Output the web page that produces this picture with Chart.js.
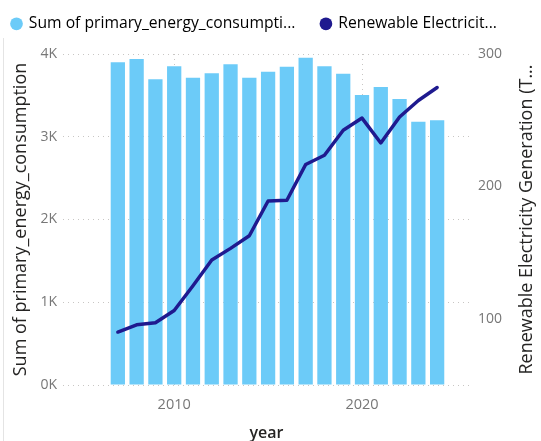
<!DOCTYPE html>
<html>
<head>
<meta charset="utf-8">
<script src="https://cdn.jsdelivr.net/npm/chart.js@4.4.1/dist/chart.umd.min.js"></script>
<style>
  html, body { margin: 0; padding: 0; background: #fff; }
  #wrap { position: relative; width: 541px; height: 441px; }
</style>
</head>
<body>
<div id="wrap"><canvas id="energyChart"></canvas></div>
<script>
const years = [2007, 2008, 2009, 2010, 2011, 2012, 2013, 2014, 2015, 2016, 2017, 2018, 2019, 2020, 2021, 2022, 2023, 2024];
const primaryEnergy = [3900, 3940, 3694, 3851, 3714, 3767, 3875, 3714, 3786, 3847, 3955, 3851, 3762, 3505, 3601, 3456, 3182, 3199];
const renewableGen = [90, 95.5, 97, 106.3, 125, 144.4, 153.2, 162.7, 189, 189.5, 216.5, 223.5, 242.4, 251.6, 232.8, 252.4, 264.9, 274.7];
const leftTicks = [0, 1000, 2000, 3000, 4000];
const rightTicks = [100, 200, 300];
const yearTicks = [2010, 2020];
const legendText = ['Sum of primary_energy_consumpti...', 'Renewable Electricit...'];

const FONT = '"Open Sans", "Noto Sans", sans-serif';
const GRID = '#c8c6c4';
const LEGEND_PAD = 26;

// fixed legend band height, and pull the legend row back to the top-left corner
// (the wide item padding would otherwise push it right and down)
const legendBand = {
  id: 'legendBand',
  beforeLayout(chart) {
    const lg = chart.legend;
    if (lg && !lg._patched) {
      const fit = lg.fit;
      lg.fit = function () { fit.call(this); this.height = 54; };
      lg._patched = true;
    }
  },
  afterLayout(chart) {
    const lg = chart.legend;
    lg.left = 12 - LEGEND_PAD;
    lg.top = -10;
  }
};

// right axis title reads bottom-to-top, so it is drawn here; plus the thin frame line on the left
const rightTitle = {
  id: 'rightTitle',
  afterDraw(chart) {
    const { ctx, chartArea } = chart;
    const s = chart.scales.y2;
    ctx.save();
    ctx.strokeStyle = '#e4e4e4';
    ctx.lineWidth = 1;
    ctx.beginPath();
    ctx.moveTo(3.5, 38);
    ctx.lineTo(3.5, chart.height);
    ctx.stroke();

    ctx.translate(s.right - 14, (chartArea.top + chartArea.bottom) / 2);
    ctx.rotate(-Math.PI / 2);
    ctx.font = '18px ' + FONT;
    ctx.fillStyle = '#252423';
    ctx.textAlign = 'center';
    ctx.textBaseline = 'middle';
    ctx.fillText('Renewable Electricity Generation (T...', 0, 0);
    ctx.restore();
  }
};

new Chart(document.getElementById('energyChart'), {
  type: 'bar',
  data: {
    datasets: [
      {
        type: 'bar',
        label: 'Sum of primary_energy_consumption',
        data: years.map((y, i) => ({ x: y, y: primaryEnergy[i] })),
        backgroundColor: '#6ccbf8',
        barPercentage: 0.76,
        categoryPercentage: 1,
        yAxisID: 'y',
        order: 1
      },
      {
        type: 'line',
        label: 'Renewable Electricity Generation (TWh)',
        data: years.map((y, i) => ({ x: y, y: renewableGen[i] })),
        borderColor: '#1f1a8f',
        backgroundColor: '#1f1a8f',
        borderWidth: 3.5,
        borderJoinStyle: 'round',
        borderCapStyle: 'round',
        pointRadius: 0,
        tension: 0,
        yAxisID: 'y2',
        order: 0
      }
    ]
  },
  options: {
    responsive: true,
    maintainAspectRatio: false,
    animation: false,
    layout: { padding: 0 },
    plugins: {
      tooltip: { enabled: false },
      legend: {
        position: 'top',
        align: 'start',
        labels: {
          usePointStyle: true,
          pointStyle: 'circle',
          boxWidth: 9,
          boxHeight: 9,
          padding: LEGEND_PAD,
          color: '#605e5c',
          font: { family: FONT, size: 15.7 },
          generateLabels(chart) {
            return chart.data.datasets.map((ds, i) => ({
              text: legendText[i],
              fillStyle: ds.type === 'line' ? ds.borderColor : ds.backgroundColor,
              strokeStyle: 'transparent',
              lineWidth: 0,
              pointStyle: 'circle',
              hidden: false,
              datasetIndex: i
            }));
          }
        }
      }
    },
    scales: {
      x: {
        type: 'linear',
        min: 2004.08,
        max: 2025.75,
        offset: false,
        afterBuildTicks(scale) { scale.ticks = yearTicks.map(v => ({ value: v })); },
        afterFit(scale) { scale.height = 56; },
        ticks: {
          color: '#777',
          padding: 11,
          font: { family: FONT, size: 14.5 },
          callback: v => String(v)
        },
        grid: { color: GRID, drawTicks: false, offset: false },
        border: { display: false, dash: [1, 4] },
        title: {
          display: true,
          text: 'year',
          color: '#252423',
          font: { family: FONT, size: 16, weight: '600', lineHeight: 1 },
          padding: { top: 0, bottom: 0 }
        }
      },
      y: {
        position: 'left',
        min: 0,
        max: 4000,
        afterBuildTicks(scale) { scale.ticks = leftTicks.map(v => ({ value: v })); },
        afterFit(scale) { scale.width = 63; },
        ticks: {
          color: '#777',
          padding: 6,
          font: { family: FONT, size: 14 },
          callback: v => (v / 1000) + 'K'
        },
        grid: { color: GRID, drawTicks: false },
        border: { display: false, dash: [1, 4] },
        title: {
          display: true,
          text: 'Sum of primary_energy_consumption',
          color: '#252423',
          font: { family: FONT, size: 18 },
          padding: { top: 10, bottom: 0 }
        }
      },
      y2: {
        position: 'right',
        min: 50,
        max: 300,
        afterBuildTicks(scale) { scale.ticks = rightTicks.map(v => ({ value: v })); },
        afterFit(scale) { scale.width = 71; },
        ticks: {
          color: '#777',
          padding: 8,
          font: { family: FONT, size: 14 }
        },
        grid: { display: false, drawTicks: false },
        border: { display: false }
      }
    }
  },
  plugins: [legendBand, rightTitle]
});
</script>
</body>
</html>
